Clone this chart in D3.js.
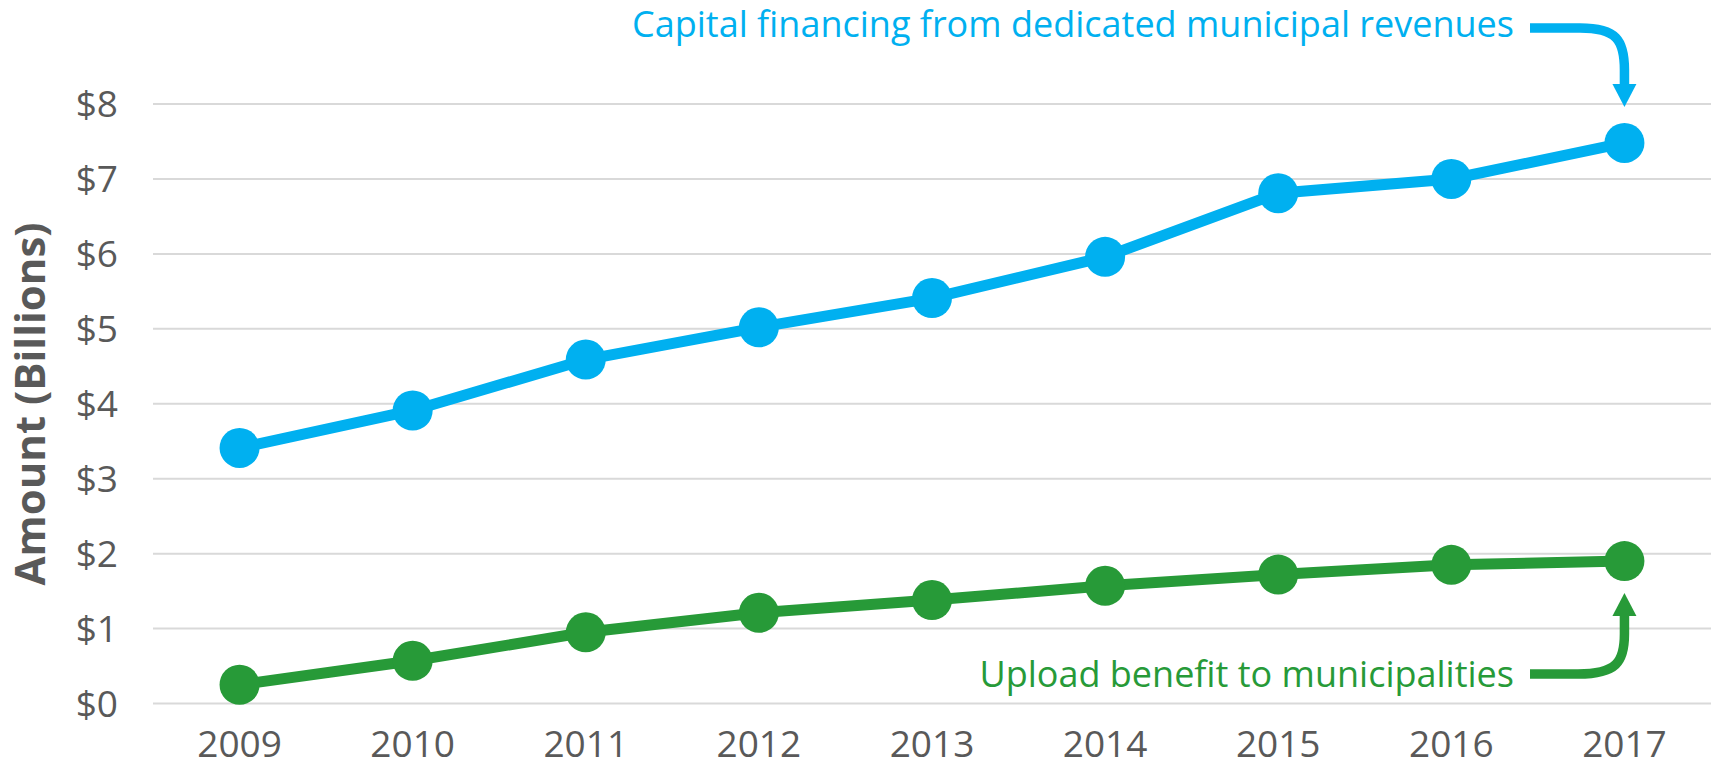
<!DOCTYPE html>
<html>
<head>
<meta charset="utf-8">
<script src="https://cdn.jsdelivr.net/npm/d3@7"></script>
<style>
  body { margin: 0; background: #fff; }
  svg text { font-family: "Open Sans", "Noto Sans", sans-serif; }
</style>
</head>
<body>
<svg id="chart" width="1711" height="767"></svg>
<script>
// data
const years = [2009, 2010, 2011, 2012, 2013, 2014, 2015, 2016, 2017]
const capitalFinancing = [3.41, 3.91, 4.59, 5.02, 5.41, 5.96, 6.81, 7.0, 7.48]
const uploadBenefit = [0.25, 0.57, 0.95, 1.21, 1.38, 1.57, 1.72, 1.85, 1.9]
const yTicks = [0, 1, 2, 3, 4, 5, 6, 7, 8]
const capitalLabel = 'Capital financing from dedicated municipal revenues'
const uploadLabel = 'Upload benefit to municipalities'

const blue = '#00B0F0'
const green = '#279A38'
const grey = '#595959'

const svg = d3.select('#chart')

const xScale = d3.scalePoint().domain(years).range([153, 1711]).padding(0.5)
const yScale = d3.scaleLinear().domain([0, 8]).range([703.5, 104])

// gridlines
svg.append('g')
  .selectAll('line')
  .data(yTicks)
  .enter()
  .append('line')
  .attr('x1', 153)
  .attr('x2', 1711)
  .attr('y1', d => yScale(d))
  .attr('y2', d => yScale(d))
  .attr('stroke', '#D9D9D9')
  .attr('stroke-width', 2)

// y tick labels
svg.append('g')
  .selectAll('text')
  .data(yTicks)
  .enter()
  .append('text')
  .attr('x', 118)
  .attr('y', d => yScale(d))
  .attr('dy', '0.36em')
  .attr('text-anchor', 'end')
  .style('font-size', '37px')
  .attr('fill', grey)
  .text(d => '$' + d)

// x tick labels (kept a hair off the bottom edge)
svg.append('g')
  .selectAll('text')
  .data(years)
  .enter()
  .append('text')
  .attr('x', d => xScale(d))
  .attr('y', 757)
  .attr('text-anchor', 'middle')
  .style('font-size', '37px')
  .attr('fill', grey)
  .text(d => d)

// axis title
svg.append('text')
  .attr('transform', 'translate(45,404) rotate(-90)')
  .attr('text-anchor', 'middle')
  .style('font-size', '42px')
  .style('font-weight', 'bold')
  .attr('fill', grey)
  .text('Amount (Billions)')

const line = d3.line()
  .x(d => xScale(d[0]))
  .y(d => yScale(d[1]))

function drawSeries(values, color) {
  let pts = years.map((y, i) => [y, values[i]])
  svg.append('path')
    .datum(pts)
    .attr('d', line)
    .attr('fill', 'none')
    .attr('stroke', color)
    .attr('stroke-width', 11)
  svg.append('g')
    .selectAll('circle')
    .data(pts)
    .enter()
    .append('circle')
    .attr('cx', d => xScale(d[0]))
    .attr('cy', d => yScale(d[1]))
    .attr('r', 20)
    .attr('fill', color)
}

drawSeries(capitalFinancing, blue)
drawSeries(uploadBenefit, green)

// annotations with curved arrows
const lastX = xScale(2017)

svg.append('text')
  .attr('x', 1514)
  .attr('y', 37)
  .attr('text-anchor', 'end')
  .style('font-size', '36px')
  .attr('fill', blue)
  .text(capitalLabel)

svg.append('path')
  .attr('d', `M1530,28 H1580 C${lastX - 8},28 ${lastX},40 ${lastX},70 V86`)
  .attr('fill', 'none')
  .attr('stroke', blue)
  .attr('stroke-width', 9.5)
svg.append('path')
  .attr('d', `M${lastX - 12},84 L${lastX + 12},84 L${lastX},107 Z`)
  .attr('fill', blue)

svg.append('text')
  .attr('x', 1514)
  .attr('y', 687)
  .attr('text-anchor', 'end')
  .style('font-size', '36px')
  .attr('fill', green)
  .text(uploadLabel)

svg.append('path')
  .attr('d', `M1530,674 H1578 C${lastX - 8},674 ${lastX},662 ${lastX},634 V614`)
  .attr('fill', 'none')
  .attr('stroke', green)
  .attr('stroke-width', 9.5)
svg.append('path')
  .attr('d', `M${lastX - 12},616 L${lastX + 12},616 L${lastX},593 Z`)
  .attr('fill', green)
</script>
</body>
</html>
